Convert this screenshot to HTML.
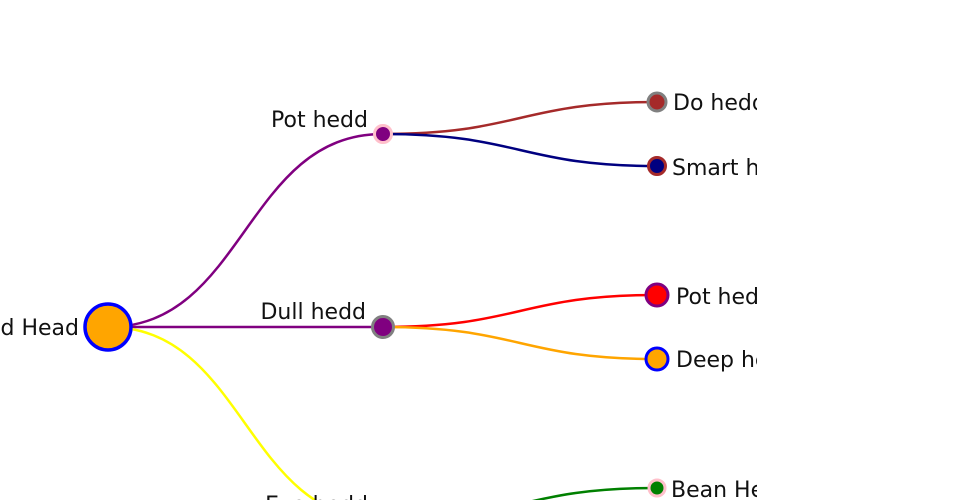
<!DOCTYPE html>
<html><head><meta charset="utf-8"><style>
html,body{margin:0;padding:0;background:#fff;width:960px;height:500px;overflow:hidden}
text{font-family:"DejaVu Sans","Liberation Sans",sans-serif;font-size:22px;fill:#111}
</style></head><body>
<svg width="960" height="500" viewBox="0 0 960 500">
<defs><clipPath id="c"><rect x="0" y="0" width="757" height="500"/></clipPath></defs>
<g fill="none" stroke-width="2.5">
<path d="M108,327 C245,327 245,134 383,134" stroke="purple"/>
<path d="M108,327 L383,327" stroke="purple"/>
<path d="M108,327 C245,327 245,520 383,520" stroke="yellow"/>
<path d="M383,134 C520,134 520,102 657,102" stroke="brown"/>
<path d="M383,134 C520,134 520,166 657,166" stroke="navy"/>
<path d="M383,327 C520,327 520,295 657,295" stroke="red"/>
<path d="M383,327 C520,327 520,359 657,359" stroke="orange"/>
<path d="M383,520 C520,520 520,488 657,488" stroke="green"/>
</g>
<circle cx="108" cy="327" r="23" fill="orange" stroke="blue" stroke-width="3.5"/>
<circle cx="383" cy="134" r="8.5" fill="purple" stroke="pink" stroke-width="3"/>
<circle cx="383" cy="327" r="10.5" fill="purple" stroke="gray" stroke-width="3"/>
<circle cx="657" cy="102" r="9" fill="brown" stroke="gray" stroke-width="3"/>
<circle cx="657" cy="166" r="8.5" fill="navy" stroke="brown" stroke-width="3"/>
<circle cx="657" cy="295" r="11" fill="red" stroke="purple" stroke-width="3"/>
<circle cx="657" cy="359" r="11" fill="orange" stroke="blue" stroke-width="3"/>
<circle cx="657" cy="488" r="8" fill="green" stroke="pink" stroke-width="3"/>
<text x="79" y="335" text-anchor="end">Old Head</text>
<text x="368" y="127" text-anchor="end">Pot hedd</text>
<text x="366" y="319" text-anchor="end">Dull hedd</text>
<text x="368" y="512" text-anchor="end">Eye hedd</text>
<g clip-path="url(#c)">
<text x="673" y="110">Do hedd</text>
<text x="672" y="175">Smart hedd</text>
<text x="676" y="304">Pot hedd</text>
<text x="676" y="367">Deep hedd</text>
<text x="671" y="497">Bean Head</text>
</g>
</svg>
</body></html>
